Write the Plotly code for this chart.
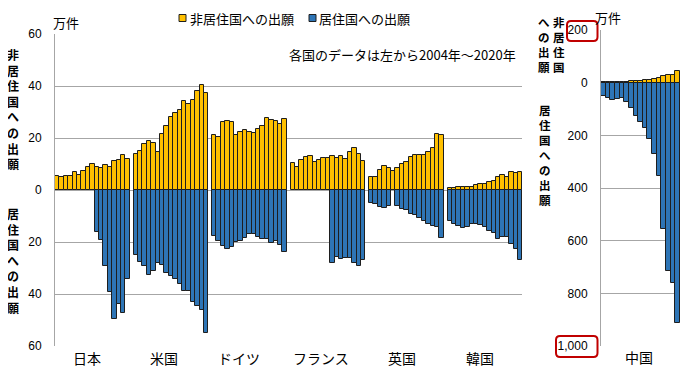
import plotly.graph_objects as go

# the page body has an 8px margin, so the figure is drawn 8px in from the window corner
OFF = 8
W, H = 700 - OFF, 376 - OFF

years = list(range(2004, 2021))
countries = ["日本", "米国", "ドイツ", "フランス", "英国", "韓国"]

# 非居住国への出願 (万件)
jp_nonres = [5.5, 4.9, 5.4, 5.4, 6.9, 5.9, 7.3, 9.0, 10.0, 8.7, 8.4, 9.7, 8.7, 11.0, 11.7, 13.3, 12.1]
us_nonres = [13.7, 15.1, 17.7, 18.8, 18.2, 14.7, 21.5, 24.7, 28.2, 29.5, 30.9, 34.1, 33.0, 34.5, 38.0, 40.2, 37.4]
de_nonres = [21.2, 20.5, 26.1, 26.4, 26.3, 21.0, 22.4, 22.9, 22.2, 22.1, 23.4, 24.6, 27.6, 26.8, 26.7, 25.3, 27.4]
fr_nonres = [10.3, 9.0, 11.7, 12.6, 13.0, 10.9, 11.4, 12.3, 12.3, 13.1, 12.3, 13.1, 12.0, 14.5, 16.3, 13.7, 11.1]
uk_nonres = [5.0, 5.1, 7.8, 9.1, 8.6, 7.4, 8.5, 10.0, 10.9, 12.8, 13.6, 13.5, 13.3, 14.5, 16.2, 21.4, 21.0]
kr_nonres = [0.6, 0.9, 1.1, 1.1, 1.0, 1.0, 2.0, 2.2, 2.5, 3.2, 3.5, 5.1, 5.7, 5.0, 7.0, 6.4, 7.1]

# 居住国への出願 (万件), None = no bar
jp_res = [None, None, None, None, None, None, None, None, None, 16.0, 19.2, 29.1, 39.1, 49.7, 43.8, 47.3, 34.4]
us_res = [25.0, 27.5, 29.1, 32.5, 31.0, 27.9, 29.0, 32.1, 33.1, 34.2, 36.2, 38.9, 38.9, 42.9, 44.8, 46.2, 55.1]
de_res = [17.6, 19.6, 21.5, 22.5, 22.1, 19.9, 19.6, 18.6, 17.1, 17.1, 18.0, 18.9, 19.0, 20.5, 19.6, 21.0, 24.0]
fr_res = [None, None, None, None, None, None, None, None, None, 28.2, 25.8, 26.6, 26.0, 26.0, 28.2, 29.3, 27.1]
uk_res = [5.1, 5.4, 6.4, 7.1, 6.2, None, 6.0, 7.3, 7.8, 9.2, 9.8, 10.7, 11.8, 13.2, 13.8, 14.1, 18.6]
kr_res = [11.9, 13.1, 13.9, 14.8, 14.4, 13.2, 13.1, 13.5, 14.3, 15.9, 16.5, 19.0, 18.2, 18.0, 20.9, 22.8, 27.0]

# 中国 (万件)
cn_nonres = [1.5, 1.8, 2.0, 2.5, 3.0, 4.0, 5.5, 6.5, 8.0, 9.0, 11.0, 13.0, 17.0, 24.0, 28.0, 31.0, 46.0]
cn_res = [52, 60, 67, 61, 58, 74, 98, 127, 150, 173, 215, 270, 353, 554, 714, 759, 912]

left_tickvals = [60, 40, 20, 0, -20, -40, -60]
left_ticktext = ["60", "40", "20", "0", "20", "40", "60"]
right_tickvals = [200, 0, -200, -400, -600, -800, -1000]
right_ticktext = ["200", "0", "200", "400", "600", "800", "1,000"]

nonres_all = [jp_nonres, us_nonres, de_nonres, fr_nonres, uk_nonres, kr_nonres]
res_all = [jp_res, us_res, de_res, fr_res, uk_res, kr_res]

YELLOW = "#FFC000"
BLUE = "#2E75B6"
EDGE = "#1e1e1e"
GRID = "#a6a6a6"
FONT = "Liberation Sans, Arial, Noto Sans CJK JP, sans-serif"
JFONT = "Noto Sans CJK JP, sans-serif"

PITCH = 17.84
n = len(years)

xs, yv_pos, yv_neg, hov = [], [], [], []
for g, c in enumerate(countries):
    for i, yr in enumerate(years):
        xs.append(g * PITCH + i + 0.5)
        yv_pos.append(nonres_all[g][i])
        r = res_all[g][i]
        yv_neg.append(None if r is None else -r)
        hov.append(f"{c} {yr}")

cx = [i + 0.5 for i in range(n)]


def px(x):
    return (x - OFF) / W


def py(y):
    return 1 - (y - OFF) / H


fig = go.Figure()
fig.add_trace(go.Bar(x=xs, y=yv_pos, width=1, marker=dict(color=YELLOW, line=dict(color=EDGE, width=1)),
                     name="非居住国への出願", hovertext=hov, xaxis="x", yaxis="y"))
fig.add_trace(go.Bar(x=xs, y=yv_neg, width=1, marker=dict(color=BLUE, line=dict(color=EDGE, width=1)),
                     name="居住国への出願", hovertext=hov, xaxis="x", yaxis="y"))
fig.add_trace(go.Bar(x=cx, y=cn_nonres, width=1, marker=dict(color=YELLOW, line=dict(color=EDGE, width=1)),
                     name="中国 非居住国", xaxis="x2", yaxis="y2"))
fig.add_trace(go.Bar(x=cx, y=[-v for v in cn_res], width=1, marker=dict(color=BLUE, line=dict(color=EDGE, width=1)),
                     name="中国 居住国", xaxis="x2", yaxis="y2"))

fig.update_layout(
    width=W, height=H,
    margin=dict(l=0, r=0, t=0, b=0),
    paper_bgcolor="white", plot_bgcolor="white",
    barmode="overlay", bargap=0,
    showlegend=False,
    font=dict(family=FONT, size=12, color="#000"),
    xaxis=dict(domain=[px(55), px(522.3)], range=[0, 5 * PITCH + 17], showticklabels=False,
               showgrid=False, zeroline=False, showline=False, ticks="", anchor="y"),
    yaxis=dict(domain=[py(346), py(34)], range=[-60, 60], tickvals=left_tickvals, ticktext=left_ticktext,
               showgrid=True, gridcolor=GRID, gridwidth=1, zeroline=False, showline=True, linecolor=GRID,
               linewidth=1, ticks="", ticklabelstandoff=10, automargin=False, anchor="x",
               tickfont=dict(size=12)),
    xaxis2=dict(domain=[px(601), px(680)], range=[0, 17], showticklabels=False, showgrid=False,
                zeroline=False, showline=False, ticks="", anchor="y2"),
    yaxis2=dict(domain=[py(346), py(30)], range=[-1000, 200], tickvals=right_tickvals, ticktext=right_ticktext,
                showgrid=True, gridcolor=GRID, gridwidth=1, zeroline=False, showline=True, linecolor=GRID,
                linewidth=1, ticks="", ticklabelstandoff=10, automargin=False, anchor="x2",
                tickfont=dict(size=12)),
)

ann = []


def add_text(x, y, text, size=13, anchor="center", bold=False, family=JFONT):
    t = f"<b>{text}</b>" if bold else text
    ann.append(dict(x=px(x), y=py(y), xref="paper", yref="paper", text=t, showarrow=False,
                    xanchor=anchor, yanchor="middle", borderpad=0,
                    font=dict(size=size, family=family, color="#000")))


def add_vertical(x, y_center, text, size=12, bold=True):
    # upright vertical Japanese text: one character per line
    body = "<br>".join(f"<b>{ch}</b>" if bold else ch for ch in text)
    ann.append(dict(x=px(x), y=py(y_center), xref="paper", yref="paper", text=body, showarrow=False,
                    xanchor="center", yanchor="middle", align="center", borderpad=0,
                    font=dict(size=size, family=JFONT, color="#000")))


# category labels
label_px = [87, 164, 239, 321, 402, 480]
for c, lx in zip(countries, label_px):
    add_text(lx, 358, c, size=14)
add_text(639, 357, "中国", size=14)

# units
add_text(66, 22, "万件", size=13)
add_text(608, 17, "万件", size=13)

# note
add_text(288, 54, "各国のデータは左から2004年～2020年", size=13, anchor="left")

# legend (manual)
add_text(189, 18, "非居住国への出願", size=13, anchor="left")
add_text(318, 18, "居住国への出願", size=13, anchor="left")

# axis titles (vertical)
add_vertical(12.5, 109.5, "非居住国への出願", size=12)
add_vertical(13, 260, "居住国への出願", size=12)
add_vertical(559, 44, "非居住国", size=11.5)
add_vertical(543.5, 44, "への出願", size=11.5)
add_vertical(545, 155, "居住国への出願", size=11.5)

fig.update_layout(annotations=ann)

shapes = []
# legend squares
for x0, col in [(179, YELLOW), (309, BLUE)]:
    shapes.append(dict(type="rect", xref="paper", yref="paper", x0=px(x0), x1=px(x0 + 7), y0=py(21.5), y1=py(14.5),
                       fillcolor=col, line=dict(color=EDGE, width=1)))


def rounded_rect(x0, y0, x1, y1, r):
    X0, X1 = px(x0), px(x1)
    Y0, Y1 = py(y0), py(y1)
    rx, ry = r / W, r / H
    p = (f"M {X0 + rx},{Y0} L {X1 - rx},{Y0} Q {X1},{Y0} {X1},{Y0 - ry} "
         f"L {X1},{Y1 + ry} Q {X1},{Y1} {X1 - rx},{Y1} "
         f"L {X0 + rx},{Y1} Q {X0},{Y1} {X0},{Y1 + ry} "
         f"L {X0},{Y0 - ry} Q {X0},{Y0} {X0 + rx},{Y0} Z")
    return dict(type="path", xref="paper", yref="paper", path=p, line=dict(color="#C00000", width=2),
                fillcolor="rgba(0,0,0,0)")


shapes.append(rounded_rect(567, 21, 597.5, 41, 4))
shapes.append(rounded_rect(556, 336, 597.5, 357, 4))

fig.update_layout(shapes=shapes)

fig.write_html("out.html")
